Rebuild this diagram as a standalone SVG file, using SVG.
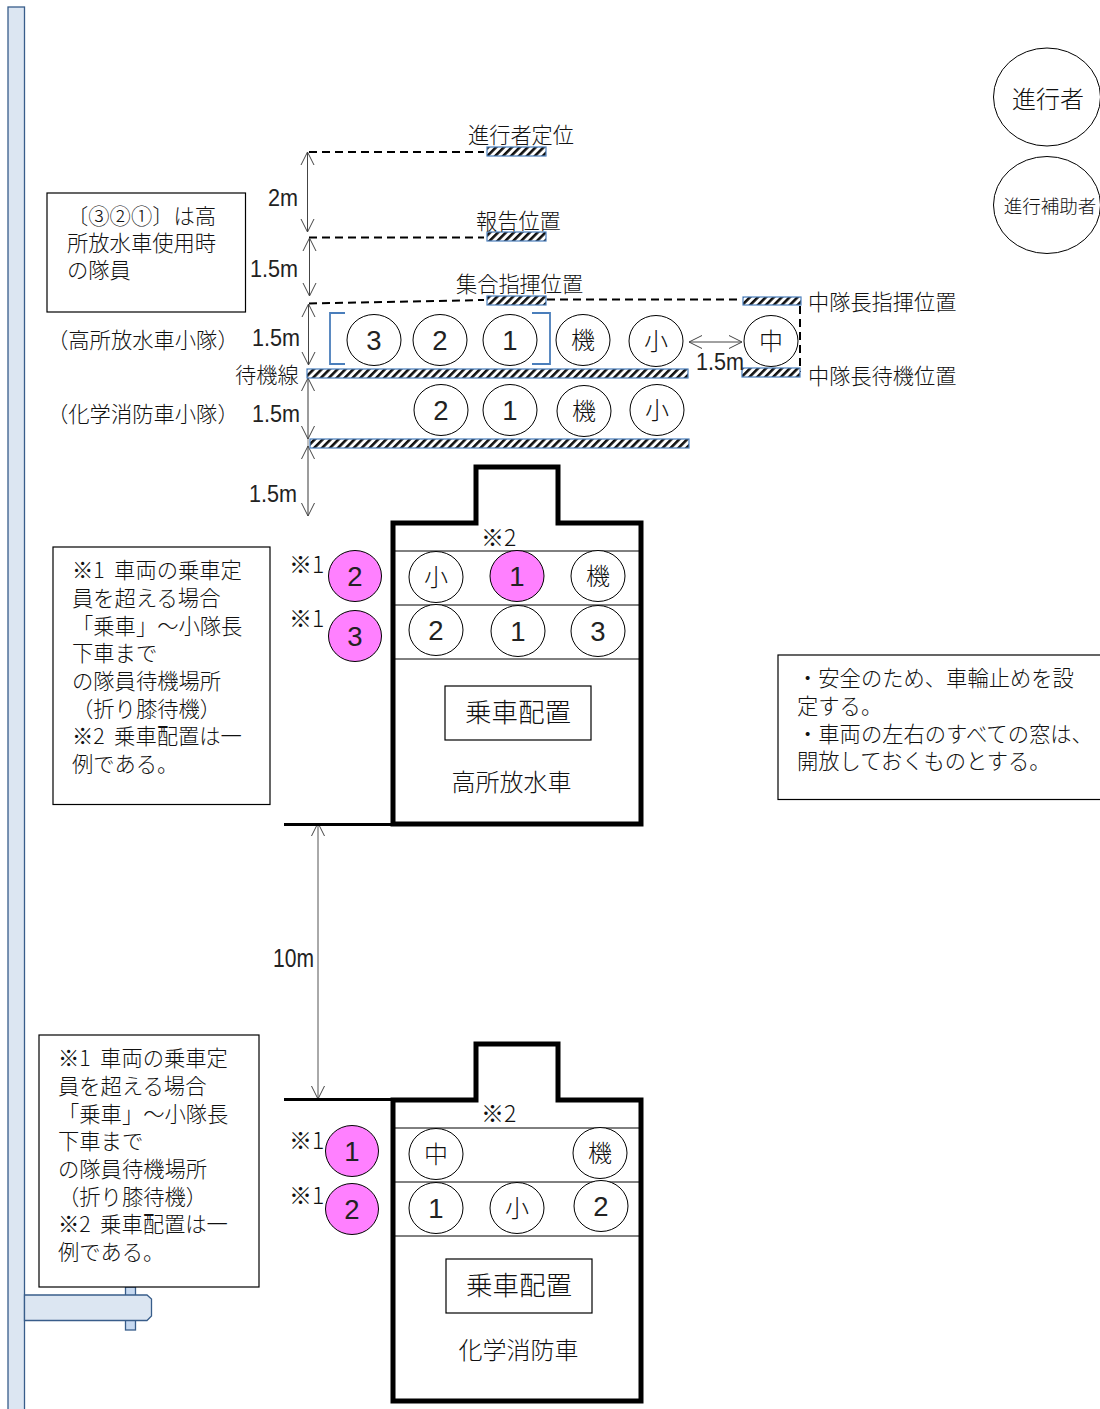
<svg xmlns="http://www.w3.org/2000/svg" width="1100" height="1409" viewBox="0 0 1100 1409">
<style>
text{font-family:"Noto Sans CJK JP","Liberation Sans",sans-serif;fill:#111;font-weight:300}
.t21{font-size:21.200px}.note{font-size:21.300px;word-spacing:4.700px}
.m{font-size:23px;font-family:"Liberation Sans","Noto Sans CJK JP",sans-serif;font-weight:400;fill:#222}
.mk{font-size:23px}
.c{text-anchor:middle}
.n{font-size:27.500px;font-family:"Liberation Sans","Noto Sans CJK JP",sans-serif;text-anchor:middle;font-weight:400;fill:#222}
.k{font-size:24px;text-anchor:middle}
ellipse{fill:#fff;stroke:#000;stroke-width:1}
.p{fill:#ff80ff}
.box{fill:#fff;stroke:#000;stroke-width:1.2}
.truck{fill:#fff;stroke:#000;stroke-width:5}
.sep{stroke:#000;stroke-width:1;fill:none}
.dash{stroke:#000;stroke-width:2;stroke-dasharray:8 5;fill:none}
.dim{stroke:#444;stroke-width:1;fill:none;marker-start:url(#a);marker-end:url(#a)}
.dimg{stroke:#999;stroke-width:1.2;fill:none}
.hat{fill:url(#h);stroke:#4a7ebb;stroke-width:1.2}
.br{fill:none;stroke:#4a7ebb;stroke-width:1.8}
.base{stroke:#000;stroke-width:3;fill:none}
.sign{fill:#dce6f2;stroke:#385d8a;stroke-width:1.3}
</style>
<defs>
<pattern id="h" width="5.600" height="5.600" patternUnits="userSpaceOnUse" patternTransform="rotate(45)">
<rect width="5.600" height="5.600" fill="#fff"/><rect width="2.600" height="5.600" fill="#111"/>
</pattern>
<marker id="a" markerWidth="16" markerHeight="16" refX="14" refY="8" orient="auto-start-reverse" markerUnits="userSpaceOnUse">
<path d="M1 1.500 14 8 1 14.500" fill="none" stroke="#444" stroke-width="1"/>
</marker>
</defs>

<g id="sign">
<rect class="sign" x="125.500" y="1287" width="10" height="43" style="fill:#c6d9f1"/>
<rect class="sign" x="8" y="7" width="16.500" height="1403"/>
<path class="sign" d="M24.500 1295H147L151.500 1299V1316L147 1320.500H24.500Z"/>
</g>

<g id="connectors">
<path class="dash" d="M309 152H484"/>
<path class="dash" d="M309 237.500H484"/>
<path class="dash" d="M309 303.500L484 300M547 299.500H742"/>
<path class="dash" d="M800 306V372"/>
<path class="dim" d="M307.500 152V232"/>
<path class="dim" d="M309.500 238V296"/>
<path class="dim" d="M308.500 304V365"/>
<path class="dimg" d="M308 372V516"/>
<path class="dim" style="stroke:#777" d="M308 378V439"/>
<path class="dim" style="stroke:#777" d="M308 446V516"/>
<path class="dim" d="M689 342H742"/>
<path class="dim" style="stroke:#555" d="M318 823V1099"/>
<path class="base" d="M284 824.500H392"/>
<path class="base" d="M284 1099.500H392"/>
<path class="br" d="M345 313H330V364H345"/>
<path class="br" d="M532 313H550V364H532"/>
</g>

<g id="hatches">
<rect class="hat" x="487" y="147" width="59" height="9"/>
<rect class="hat" x="487" y="232" width="59" height="9"/>
<rect class="hat" x="487" y="296" width="59" height="9"/>
<rect class="hat" x="743" y="297" width="58" height="8"/>
<rect class="hat" x="742" y="368" width="58" height="9"/>
<rect class="hat" x="307" y="369" width="381" height="9"/>
<rect class="hat" x="310" y="439" width="379" height="9"/>
</g>

<g id="person-shinko"><ellipse cx="1047" cy="97" rx="53.500" ry="49"/><text class="c" x="1048" y="108" style="font-size:24px">進行者</text></g>
<g id="person-hojo"><ellipse cx="1047" cy="205" rx="53.500" ry="48.500"/><text class="c" x="1050" y="213" style="font-size:18.500px">進行補助者</text></g>

<g id="labels">
<text class="t21" x="468" y="143">進行者定位</text>
<text class="t21" x="476" y="229">報告位置</text>
<text class="t21" x="456" y="292">集合指揮位置</text>
<text class="t21" x="808" y="310">中隊長指揮位置</text>
<text class="t21" x="808" y="384">中隊長待機位置</text>
<text class="t21" x="235" y="383">待機線</text>
<text class="note" x="47" y="348">（高所放水車小隊）</text>
<text class="note" x="47" y="422">（化学消防車小隊）</text>
<text class="m" x="268" y="206" textLength="30" lengthAdjust="spacingAndGlyphs">2m</text>
<text class="m" x="250" y="277" textLength="48" lengthAdjust="spacingAndGlyphs">1.5m</text>
<text class="m" x="252" y="346" textLength="48" lengthAdjust="spacingAndGlyphs">1.5m</text>
<text class="m" x="696" y="370" textLength="48" lengthAdjust="spacingAndGlyphs">1.5m</text>
<text class="m" x="252" y="422" textLength="48" lengthAdjust="spacingAndGlyphs">1.5m</text>
<text class="m" x="249" y="502" textLength="48" lengthAdjust="spacingAndGlyphs">1.5m</text>
<text class="m" x="273" y="967" style="font-size:25px" textLength="41" lengthAdjust="spacingAndGlyphs">10m</text>
</g>

<g id="note-top"><rect class="box" x="47" y="193" width="198.500" height="119"/>
<text class="note"><tspan x="67" y="224">〔③②①〕は高</tspan><tspan x="67" y="251">所放水車使用時</tspan><tspan x="67" y="278">の隊員</tspan></text></g>

<g id="row-1"><ellipse cx="374" cy="340" rx="27" ry="25.500"/><text class="n" x="374" y="350">3</text>
<ellipse cx="440" cy="340" rx="27" ry="25.500"/><text class="n" x="440" y="350">2</text>
<ellipse cx="510" cy="340" rx="27" ry="25.500"/><text class="n" x="510" y="350">1</text>
<ellipse cx="583" cy="340" rx="27" ry="25.500"/><text class="k" x="583" y="349">機</text>
<ellipse cx="656" cy="341" rx="27" ry="25.500"/><text class="k" x="656" y="350">小</text>
<ellipse cx="771" cy="341" rx="27" ry="25.500"/><text class="k" x="771" y="350">中</text></g>
<g id="row-2"><ellipse cx="441" cy="410" rx="27" ry="25.500"/><text class="n" x="441" y="420">2</text>
<ellipse cx="510" cy="410" rx="27" ry="25.500"/><text class="n" x="510" y="420">1</text>
<ellipse cx="584" cy="411" rx="27" ry="25.500"/><text class="k" x="584" y="420">機</text>
<ellipse cx="657" cy="410" rx="27" ry="25.500"/><text class="k" x="657" y="419">小</text></g>

<g id="truck-1">
<path class="truck" d="M393 824V523H476V467H558V523H641V824Z"/>
<path class="sep" d="M393 551H641M393 605H641M393 659H641"/>
<text class="mk" x="481" y="546">※2</text>
<ellipse cx="436" cy="577" rx="27" ry="25.500"/><text class="k" x="436" y="586">小</text>
<ellipse class="p" cx="517" cy="576" rx="27" ry="25.500"/><text class="n" x="517" y="586">1</text>
<ellipse cx="598" cy="576" rx="27" ry="25.500"/><text class="k" x="598" y="585">機</text>
<ellipse cx="436" cy="630" rx="27" ry="25.500"/><text class="n" x="436" y="640">2</text>
<ellipse cx="518" cy="631" rx="27" ry="25.500"/><text class="n" x="518" y="641">1</text>
<ellipse cx="598" cy="631" rx="27" ry="25.500"/><text class="n" x="598" y="641">3</text>
<rect class="box" x="445" y="686" width="146" height="54"/>
<text class="c" x="518" y="722" style="font-size:26.500px">乗車配置</text>
<text class="c" x="511.500" y="791" style="font-size:24px">高所放水車</text>
</g>

<g id="truck-2">
<path class="truck" d="M393 1401V1100H476V1044H558V1100H641V1401Z"/>
<path class="sep" d="M393 1128H641M393 1182H641M393 1236H641"/>
<text class="mk" x="481" y="1122">※2</text>
<ellipse cx="436" cy="1154" rx="27" ry="25.500"/><text class="k" x="436" y="1163">中</text>
<ellipse cx="600" cy="1153" rx="27" ry="25.500"/><text class="k" x="600" y="1162">機</text>
<ellipse cx="436" cy="1208" rx="27" ry="25.500"/><text class="n" x="436" y="1218">1</text>
<ellipse cx="517" cy="1208" rx="27" ry="25.500"/><text class="k" x="517" y="1217">小</text>
<ellipse cx="601" cy="1206" rx="27" ry="25.500"/><text class="n" x="601" y="1216">2</text>
<rect class="box" x="446" y="1259" width="146" height="54"/>
<text class="c" x="519" y="1295" style="font-size:26.500px">乗車配置</text>
<text class="c" x="518.500" y="1359" style="font-size:24px">化学消防車</text>
</g>

<g id="pink-1"><text class="mk" x="289" y="573">※1</text><ellipse class="p" cx="355" cy="576" rx="26.500" ry="25.500"/><text class="n" x="355" y="586">2</text>
<text class="mk" x="289" y="627">※1</text><ellipse class="p" cx="355" cy="636" rx="26.500" ry="25.500"/><text class="n" x="355" y="646">3</text></g>
<g id="pink-2"><text class="mk" x="289" y="1149">※1</text><ellipse class="p" cx="352" cy="1151" rx="26.500" ry="25.500"/><text class="n" x="352" y="1161">1</text>
<text class="mk" x="289" y="1204">※1</text><ellipse class="p" cx="352" cy="1209" rx="26.500" ry="25.500"/><text class="n" x="352" y="1219">2</text></g>

<g id="note-1"><rect class="box" x="53" y="547" width="217" height="257.500"/>
<text class="note"><tspan x="72" y="578">※1 車両の乗車定</tspan><tspan x="72" y="606">員を超える場合</tspan><tspan x="72" y="634">「乗車」～小隊長</tspan><tspan x="72" y="661">下車まで</tspan><tspan x="72" y="689">の隊員待機場所</tspan><tspan x="72" y="717">（折り膝待機）</tspan><tspan x="72" y="744">※2 乗車配置は一</tspan><tspan x="72" y="772">例である。</tspan></text></g>

<g id="note-2"><rect class="box" x="39" y="1035" width="220" height="252"/>
<text class="note"><tspan x="58" y="1066">※1 車両の乗車定</tspan><tspan x="58" y="1094">員を超える場合</tspan><tspan x="58" y="1122">「乗車」～小隊長</tspan><tspan x="58" y="1149">下車まで</tspan><tspan x="58" y="1177">の隊員待機場所</tspan><tspan x="58" y="1205">（折り膝待機）</tspan><tspan x="58" y="1232">※2 乗車配置は一</tspan><tspan x="58" y="1260">例である。</tspan></text></g>

<g id="note-3"><rect class="box" x="778" y="655" width="330" height="144.500"/>
<text class="note"><tspan x="797" y="686">・安全のため、車輪止めを設</tspan><tspan x="797" y="714">定する。</tspan><tspan x="797" y="742">・車両の左右のすべての窓は、</tspan><tspan x="797" y="769">開放しておくものとする。</tspan></text></g>
</svg>
